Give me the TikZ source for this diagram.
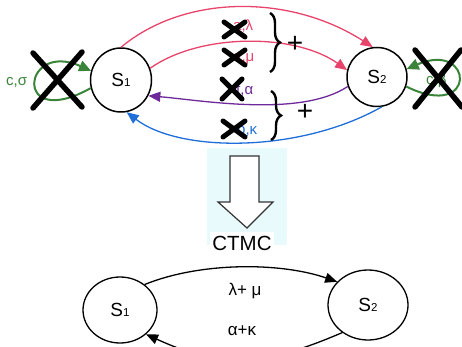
\documentclass[tikz,border=0pt]{standalone}
\usepackage{fontspec}
\setmainfont{Liberation Sans}
\usetikzlibrary{shapes.geometric,arrows.meta,decorations.pathreplacing}
\definecolor{rosered}{HTML}{E8436A}
\definecolor{violet}{HTML}{6E2A9A}
\definecolor{skyblue}{HTML}{1E6FD9}
\definecolor{loopgreen}{HTML}{3A853A}
\definecolor{panelcyan}{HTML}{E8FAFC}
\newcommand\statename[1]{S{\fontsize{11.5}{11.5}\selectfont #1}}
\begin{document}
\begin{tikzpicture}[x=1pt,y=-1pt,
  state/.style={ellipse,draw=black,line width=1.5pt,inner sep=0pt,
    font=\fontsize{19}{19}\selectfont},
  edge/.style={line width=1.3pt,-{Triangle[length=12pt,width=10pt]}},
  loopedge/.style={line width=2pt,-{Triangle[length=12pt,width=11pt]}},
  rate/.style={font=\fontsize{15}{15}\selectfont,inner sep=0pt},
  cross/.style={line width=5pt,line cap=round},
  bigcross/.style={line width=5.5pt,line cap=round},
  bracket/.style={decorate,decoration={brace,amplitude=10pt},line width=2.4pt},
  plus/.style={font=\fontsize{28}{28}\selectfont,inner sep=0pt}]
\useasboundingbox (0,0) rectangle (462,347);
\clip (0,0) rectangle (462,347);

% ---- DTMC-style model with crossed-out transitions ----
\node[state,minimum width=61pt,minimum height=64pt] (s1) at (121,80) {\statename{1}};
\node[state,minimum width=60pt,minimum height=59pt] (s2) at (377,77) {\statename{2}};

% forward transitions
\draw[edge,rosered] (s1.north) .. controls (185,-6) and (290,-6) .. (s2.98);
\draw[edge,rosered] (s1.22) .. controls (200,33) and (295,33) .. (s2.167);
% backward transitions
\draw[edge,violet] (s2.198) .. controls (300,118) and (200,100) .. (s1.-30);
\draw[edge,skyblue] (s2.-81) .. controls (300,153) and (180,153) .. (s1.-80);
% self loops
\draw[loopedge,loopgreen] (s1.195) .. controls (12,132) and (22,40) .. (s1.163);
\draw[loopedge,loopgreen] (s2.-18) .. controls (478,122) and (474,40) .. (s2.15);

% rate labels
\node[rate,anchor=west,text=loopgreen] (lc1) at (6,82) {c,σ};
\node[rate,anchor=west,text=loopgreen] (lc2) at (426,81) {c,β};
\node[rate,anchor=west,text=rosered] (la) at (233,26) {a,λ};
\node[rate,anchor=west,text=rosered] (lb) at (233,59) {a,μ};
\node[rate,anchor=west,text=violet] (lf) at (236,90) {f,α};
\node[rate,anchor=west,text=skyblue] (lk) at (237,130) {b,κ};

% crosses over the removed labels and loops
\draw[cross] (224,22) -- (245,37) (224,37) -- (245,22);
\draw[cross] (224,50) -- (245,65) (224,65) -- (245,50);
\draw[cross] (222,79) -- (242,99) (222,99) -- (242,79);
\draw[cross] (223,121) -- (245,137) (223,137) -- (245,121);
\draw[bigcross] (33,53) -- (82,107) (82,52) -- (33,108);
\draw[bigcross] (415,50) -- (462,107) (415,107) -- (461,50);

% grouping braces
\draw[bracket] (270,13) -- (270,72);
\node[plus] (p1) at (295,44) {+};
\draw[bracket] (271,91) -- (271,140);
\node[plus] (p2) at (305,112) {+};

% ---- conversion step ----
\fill[panelcyan] (207,148) rectangle (287,245);
\draw[line width=1.2pt,draw=black!80,fill=white,line join=miter]
  (230,156) -- (259,156) -- (259,202) -- (273,202) -- (247,228)
  -- (218,202) -- (230,202) -- cycle;
\node[fill=white,inner sep=2pt,font=\fontsize{20.5}{20.5}\selectfont,
  minimum width=62pt,minimum height=22pt] (ctmc) at (242,243) {CTMC};

% ---- resulting CTMC ----
\node[state,line width=1.3pt,minimum width=74pt,minimum height=66pt] (b1) at (120,310) {\statename{1}};
\node[state,line width=1.3pt,minimum width=80pt,minimum height=70pt] (b2) at (368,305) {\statename{2}};
\draw[edge,black] (b1.46) .. controls (200,262) and (280,262) .. (b2.143);
\draw[edge,black] (b2.227) .. controls (260,368) and (220,368) .. (b1.-43);
\node[font=\fontsize{17}{17}\selectfont,inner sep=0pt] (r1) at (245,291) {λ+ μ};
\node[font=\fontsize{17}{17}\selectfont,inner sep=0pt] (r2) at (242,331) {α+κ};
\end{tikzpicture}
\end{document}
